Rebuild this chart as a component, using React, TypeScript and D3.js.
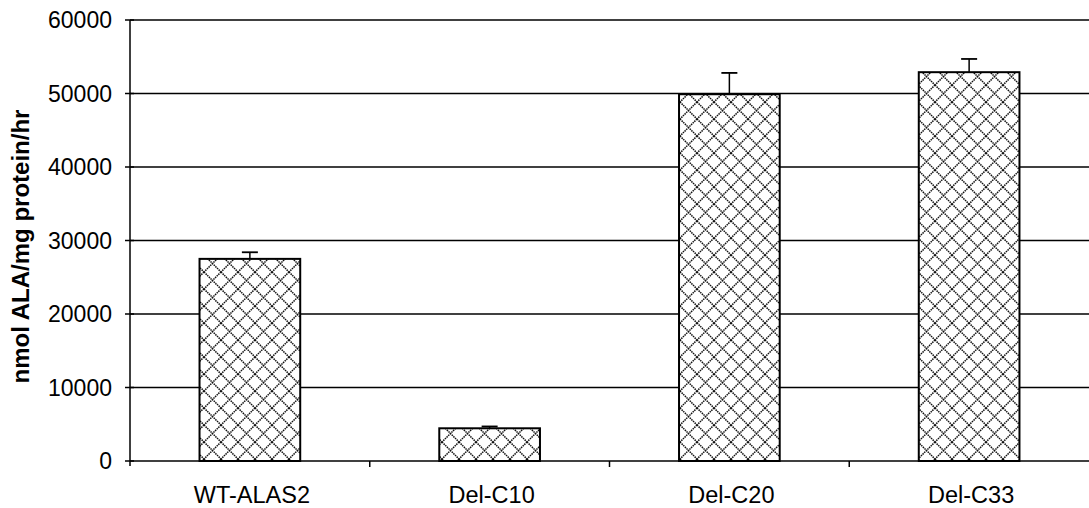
import { useEffect, useRef } from 'react';
import * as d3 from 'd3';

const categories = ['WT-ALAS2', 'Del-C10', 'Del-C20', 'Del-C33'];
const means = [27500, 4450, 49900, 52900];
const errors = [900, 250, 2900, 1800];
const yTicks = [0, 10000, 20000, 30000, 40000, 50000, 60000];

const W = 1089;
const H = 508;

const App = () => {
  const ref = useRef<SVGSVGElement>(null);

  useEffect(() => {
    if (!ref.current) return;
    document.body.style.margin = '0';
    const svg = d3.select(ref.current);
    svg.selectAll('*').remove();

    const left = 130, right = 1089, top = 20, bottom = 461;
    const font = '"Liberation Sans", Arial, sans-serif';

    const x = d3.scaleBand<string>().domain(categories).range([left, right]).padding(0);
    const y = d3.scaleLinear().domain([0, 60000]).range([bottom, top]);
    const barW = x.bandwidth() * 0.42;

    // crosshatch fill
    const defs = svg.append('defs');
    const pat = defs.append('pattern')
      .attr('id', 'hatch')
      .attr('patternUnits', 'userSpaceOnUse')
      .attr('width', 17)
      .attr('height', 17);
    pat.append('rect').attr('width', 17).attr('height', 17).attr('fill', 'white');
    pat.append('path')
      .attr('d', 'M0,0 L17,17 M17,0 L0,17')
      .attr('stroke', '#111')
      .attr('stroke-width', 1.5)
      .attr('stroke-dasharray', '1.5,0.8');

    // gridlines
    svg.append('g')
      .selectAll('line')
      .data(yTicks.filter(d => d > 0))
      .enter()
      .append('line')
      .attr('x1', left)
      .attr('x2', right)
      .attr('y1', d => y(d))
      .attr('y2', d => y(d))
      .attr('stroke', '#000')
      .attr('stroke-width', 1.3);

    // bars
    const bars = svg.append('g');
    categories.forEach((c, i) => {
      const cx = (x(c) ?? 0) + x.bandwidth() / 2;
      bars.append('line')
        .attr('x1', cx).attr('x2', cx)
        .attr('y1', y(means[i]))
        .attr('y2', y(means[i] + errors[i]))
        .attr('stroke', '#000')
        .attr('stroke-width', 1.5);
      bars.append('line')
        .attr('x1', cx - 8).attr('x2', cx + 8)
        .attr('y1', y(means[i] + errors[i]))
        .attr('y2', y(means[i] + errors[i]))
        .attr('stroke', '#000')
        .attr('stroke-width', 1.8);
      bars.append('rect')
        .attr('x', cx - barW / 2)
        .attr('y', y(means[i]))
        .attr('width', barW)
        .attr('height', bottom - y(means[i]))
        .attr('fill', 'url(#hatch)')
        .attr('stroke', '#000')
        .attr('stroke-width', 2);
    });

    // y axis
    const yAxis = svg.append('g');
    yAxis.append('line')
      .attr('x1', left).attr('x2', left)
      .attr('y1', top).attr('y2', bottom + 5)
      .attr('stroke', '#000').attr('stroke-width', 1.5);
    yTicks.forEach(t => {
      yAxis.append('line')
        .attr('x1', left - 5).attr('x2', left + 4)
        .attr('y1', y(t)).attr('y2', y(t))
        .attr('stroke', '#000').attr('stroke-width', 1.5);
      yAxis.append('text')
        .attr('x', left - 18)
        .attr('y', y(t))
        .attr('dy', '0.36em')
        .attr('text-anchor', 'end')
        .style('font-family', font)
        .style('font-size', '23px')
        .text(String(t));
    });

    // x axis
    const xAxis = svg.append('g');
    xAxis.append('line')
      .attr('x1', left).attr('x2', right)
      .attr('y1', bottom).attr('y2', bottom)
      .attr('stroke', '#000').attr('stroke-width', 1.5);
    categories.slice(1).forEach(c => {
      const bx = x(c) ?? 0;
      xAxis.append('line')
        .attr('x1', bx).attr('x2', bx)
        .attr('y1', bottom).attr('y2', bottom + 6)
        .attr('stroke', '#000').attr('stroke-width', 1.5);
    });
    categories.forEach(c => {
      xAxis.append('text')
        .attr('x', (x(c) ?? 0) + x.bandwidth() / 2 + 2)
        .attr('y', 503)
        .attr('text-anchor', 'middle')
        .style('font-family', font)
        .style('font-size', '23.5px')
        .text(c);
    });

    // y label
    svg.append('text')
      .attr('transform', `translate(29, ${(top + bottom) / 2 + 6}) rotate(-90)`)
      .attr('text-anchor', 'middle')
      .style('font-family', font)
      .style('font-size', '24px')
      .style('font-weight', 'bold')
      .text('nmol ALA/mg protein/hr');
  }, []);

  return (
    <svg
      ref={ref}
      width={W}
      height={H}
      style={{ display: 'block', background: 'white' }}
    ></svg>
  );
};

export default App;
